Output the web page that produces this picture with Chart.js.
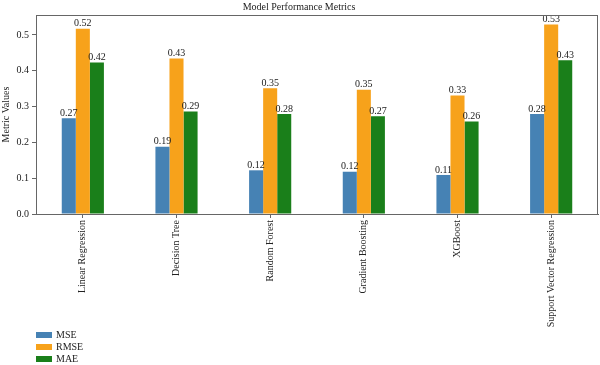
<!DOCTYPE html>
<html>
<head>
<meta charset="utf-8">
<script src="https://cdn.jsdelivr.net/npm/chart.js@4.4.1/dist/chart.umd.min.js"></script>
<style>
    html, body { margin: 0; padding: 0; background: #fff; }
    canvas { display: block; }
</style>
</head>
<body>
<canvas id="barChart" width="600" height="365"></canvas>
<script>
const models = ['Linear Regression', 'Decision Tree', 'Random Forest', 'Gradient Boosting', 'XGBoost', 'Support Vector Regression'];
const mse = [0.267, 0.188, 0.122, 0.118, 0.109, 0.279];
const rmse = [0.517, 0.434, 0.351, 0.347, 0.331, 0.529];
const mae = [0.423, 0.286, 0.279, 0.273, 0.258, 0.429];
const yTicks = [0.0, 0.1, 0.2, 0.3, 0.4, 0.5];

const serif = '"Liberation Serif", "DejaVu Serif", serif';
Chart.defaults.font.family = serif;
Chart.defaults.color = '#222';

// подписи значений над столбцами
const valueLabels = {
    id: 'valueLabels',
    afterDatasetsDraw(chart) {
        const ctx = chart.ctx;
        ctx.save();
        ctx.font = '10px ' + serif;
        ctx.fillStyle = '#222';
        ctx.textAlign = 'center';
        ctx.textBaseline = 'bottom';
        chart.data.datasets.forEach((ds, i) => {
            chart.getDatasetMeta(i).data.forEach((bar, j) => {
                ctx.fillText(ds.data[j].toFixed(2), bar.x, bar.y);
            });
        });
        ctx.restore();
    }
};

// рамка вокруг области графика + легенда столбиком снизу слева
const frameAndLegend = {
    id: 'frameAndLegend',
    afterDraw(chart) {
        const ctx = chart.ctx;
        const a = chart.chartArea;
        ctx.save();
        ctx.strokeStyle = '#666';
        ctx.lineWidth = 1;
        ctx.strokeRect(a.left + 0.5, a.top + 0.5, a.right - a.left - 1, a.bottom - a.top);

        ctx.font = '10px ' + serif;
        ctx.textBaseline = 'middle';
        chart.data.datasets.forEach((ds, i) => {
            const y = 335 + i * 12;
            ctx.fillStyle = ds.backgroundColor;
            ctx.fillRect(36, y - 3, 16, 6);
            ctx.fillStyle = '#222';
            ctx.fillText(ds.label, 56, y);
        });
        ctx.restore();
    }
};

const ctx = document.getElementById('barChart').getContext('2d');
const chart = new Chart(ctx, {
    type: 'bar',
    data: {
        labels: models,
        datasets: [
            { label: 'MSE', data: mse, backgroundColor: '#4682b4' },
            { label: 'RMSE', data: rmse, backgroundColor: '#f7a21b' },
            { label: 'MAE', data: mae, backgroundColor: '#1a7f1a' }
        ]
    },
    options: {
        responsive: false,
        animation: false,
        layout: { padding: { left: 0, right: 2, top: 0, bottom: 0 } },
        datasets: {
            bar: { categoryPercentage: 0.45, barPercentage: 1.0 }
        },
        plugins: {
            legend: { display: false },
            tooltip: { enabled: false },
            title: {
                display: true,
                text: 'Model Performance Metrics',
                color: '#222',
                font: { size: 10, weight: 'normal', family: serif },
                padding: { top: 1, bottom: 2 }
            }
        },
        scales: {
            x: {
                grid: { drawOnChartArea: false, offset: false, tickLength: 4, color: '#666' },
                border: { display: true, color: '#666' },
                ticks: { maxRotation: 90, minRotation: 90, padding: 2, font: { size: 10 }, color: '#222' },
                afterFit: (scale) => { scale.height = 151; }
            },
            y: {
                min: 0,
                max: 0.5556,
                afterBuildTicks: (scale) => { scale.ticks = yTicks.map(v => ({ value: v })); },
                grid: { drawOnChartArea: false, tickLength: 4, color: '#666' },
                border: { display: true, color: '#666' },
                ticks: {
                    padding: 3,
                    font: { size: 10 },
                    color: '#222',
                    callback: (v) => Number(v).toFixed(1)
                },
                title: {
                    display: true,
                    text: 'Metric Values',
                    font: { size: 10 },
                    color: '#222',
                    padding: { top: 0, bottom: 2 }
                },
                afterFit: (scale) => { scale.width = 36; }
            }
        }
    },
    plugins: [valueLabels, frameAndLegend]
});
</script>
</body>
</html>
